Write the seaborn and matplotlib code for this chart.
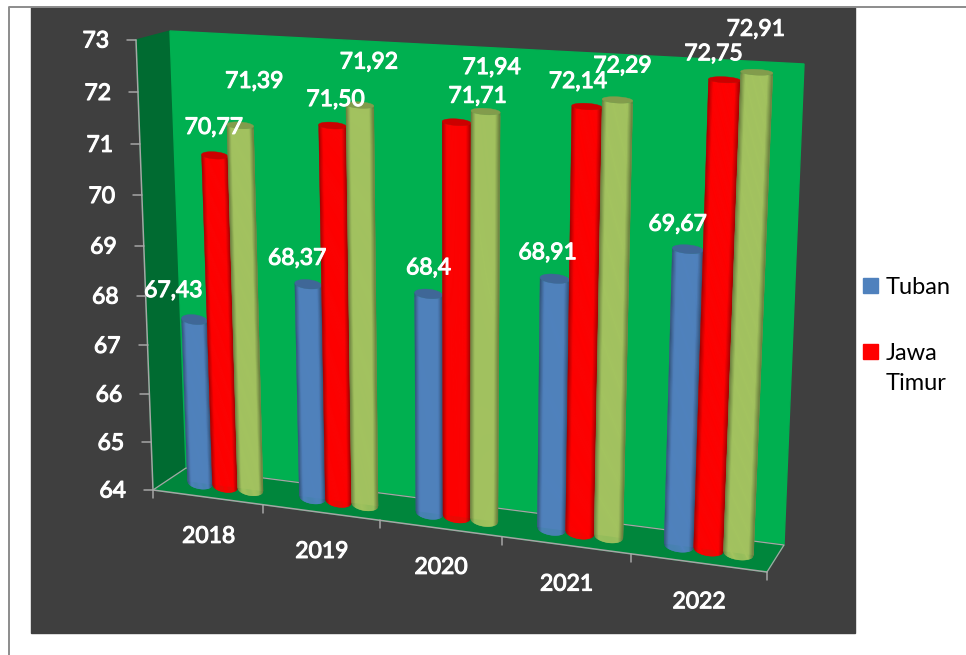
#!/usr/bin/env python
# -*- coding: utf-8 -*-
import numpy as np
import pandas as pd
import matplotlib
matplotlib.use("Agg")
import matplotlib.pyplot as plt
import matplotlib.patheffects as pe
import seaborn as sns
from matplotlib.colors import to_rgb
from matplotlib.patches import Polygon, Rectangle
from matplotlib.transforms import Transform

# data
YEARS = ["2018", "2019", "2020", "2021", "2022"]
TUBAN = [67.43, 68.37, 68.40, 68.91, 69.67]
JAWA_TIMUR = [70.77, 71.50, 71.71, 72.14, 72.75]
SERI_3 = [71.39, 71.92, 71.94, 72.29, 72.91]
SERIES = ["Tuban", "Jawa Timur", "Seri 3"]
VALUE_TEXT = [
    ["67,43", "68,37", "68,4", "68,91", "69,67"],
    ["70,77", "71,50", "71,71", "72,14", "72,75"],
    ["71,39", "71,92", "71,94", "72,29", "72,91"],
]
Y_TICKS = [64, 65, 66, 67, 68, 69, 70, 71, 72, 73]

# label shift from the top of each bar, in pixels
LABEL_SHIFT = [
    [(-21, -29), (-11, -26), (0, -26), (-7, -26), (-10, -25)],
    [(-1, -28), (3, -26), (21, -26), (-9, -25), (-11, -26)],
    [(14, -44), (9, -43), (6, -44), (5, -34), (-1, -43)],
]

COLORS = ["#4F81BD", "#FF0000", "#A3C35F"]
BACKGROUND = "#3F3F3F"
GRID_GRAY = "#A6A6A6"
BASE, TOP = 64, 73
X0, X1 = -0.5, 4.5
BOLD = [pe.withStroke(linewidth=0.8, foreground="white")]


class Homography(Transform):
    """Perspective map from (category, value) to image pixels."""
    input_dims = 2
    output_dims = 2

    def __init__(self, corners):
        super().__init__()
        src = [(X0, BASE), (X1, BASE), (X1, TOP), (X0, TOP)]
        a, b = [], []
        for (x, y), (u, v) in zip(src, corners):
            a.append([x, y, 1, 0, 0, 0, -u * x, -u * y])
            a.append([0, 0, 0, x, y, 1, -v * x, -v * y])
            b += [u, v]
        self.h = np.append(np.linalg.solve(np.array(a, float), np.array(b, float)), 1).reshape(3, 3)

    def transform_non_affine(self, values):
        values = np.asarray(values, float)
        pts = np.column_stack([values, np.ones(len(values))]) @ self.h.T
        return pts[:, :2] / pts[:, 2:]


# middle plane holds the bars, front plane holds the axes
mid_plane = Homography([(170, 479), (775, 558), (796, 69), (153, 37)])
front_plane = Homography([(153, 490), (767, 572), (787, 60), (136, 40)])

df = pd.DataFrame({
    "tahun": YEARS * 3,
    "nilai": TUBAN + JAWA_TIMUR + SERI_3,
    "seri": np.repeat(SERIES, len(YEARS)),
})

sns.set_theme(style="white")
plt.rcParams["font.family"] = ["Lato", "DejaVu Sans"]

fig = plt.figure(figsize=(9.66, 6.55), dpi=100)
ax = fig.add_axes([0, 0, 1, 1])
sns.barplot(data=df, x="tahun", y="nilai", hue="seri", palette=COLORS, width=0.68,
            gap=0, legend=False, ax=ax)
bars = sorted(ax.patches, key=lambda p: p.get_x())
ax.set_xlim(0, 966)
ax.set_ylim(655, 0)
ax.axis("off")
fig.patch.set_facecolor("white")

# frame and dark panel
ax.add_patch(Rectangle((31, 7), 824, 626, color=BACKGROUND, zorder=0))
ax.plot([9, 9, 966], [655, 7, 7], color="#8C8C8C", lw=1.4, zorder=1)

# walls and floor of the chart box
ax.add_patch(Polygon([(136, 40), (170, 31), (186, 468), (153, 490)], color="#006B31", zorder=1))
ax.add_patch(Polygon([(170, 31), (804, 64), (784, 545), (186, 468)], color="#00B050", zorder=1))
ax.add_patch(Polygon([(153, 490), (767, 572), (784, 545), (186, 468)], color="#00863C", zorder=1))
ax.plot([153, 186, 784, 767], [490, 468, 545, 572], color=GRID_GRAY, lw=0.9, zorder=2)

# axis lines, ticks and tick labels
left = front_plane.transform([(X0, v) for v in Y_TICKS])
ax.plot(left[:, 0], left[:, 1], color=GRID_GRAY, lw=1.1, zorder=2)
for (px, py), v in zip(left, Y_TICKS):
    ax.plot([px - 9, px], [py, py], color=GRID_GRAY, lw=1.1, zorder=2)
    ax.text(px - 27, py + 1, str(v), color="white", fontsize=16.5, ha="right", va="center",
            path_effects=BOLD, zorder=20)

bottom = front_plane.transform([(X0 + i, BASE) for i in range(len(YEARS) + 1)])
ax.plot(bottom[:, 0], bottom[:, 1], color=GRID_GRAY, lw=1.1, zorder=2)
for px, py in bottom:
    ax.plot([px, px], [py, py + 8], color=GRID_GRAY, lw=1.1, zorder=2)
centers = front_plane.transform([(i, BASE) for i in range(len(YEARS))])
for (px, py), year in zip(centers, YEARS):
    ax.text(px + 1, py + 39, year, color="white", fontsize=16.5, ha="center", va="center",
            path_effects=BOLD, zorder=20)


def shade(color, t):
    # darker towards both edges of the cylinder
    f = 0.62 + 0.38 * np.clip(np.sin(np.pi * t) * 2, 0, 1)
    return tuple(np.array(to_rgb(color)) * f)


def ellipse_depth(value):
    # the caps flatten with height because of the view angle
    return 0.13 - 0.08 * (value - BASE) / (TOP - BASE)


# seaborn's bars give position and height, then get the cylinder look
to_px = mid_plane + ax.transData
for i, bar in enumerate(bars):
    cat, ser = i // 3, i % 3
    x, w, value = bar.get_x(), bar.get_width(), bar.get_height()
    z = 5 + i
    low_e, top_e = ellipse_depth(BASE), ellipse_depth(value)
    bar.set_y(BASE)
    bar.set_height(value - BASE - top_e)
    bar.set_transform(to_px)
    bar.set_clip_on(False)
    bar.set_linewidth(0)
    bar.set_edgecolor("none")
    bar.set_zorder(z)

    edges = np.linspace(0, 1, 29)
    for t0, t1 in zip(edges[:-1], edges[1:]):
        tm = (t0 + t1) / 2
        arc0, arc1 = np.sqrt(1 - (2 * t0 - 1) ** 2), np.sqrt(1 - (2 * t1 - 1) ** 2)
        xs = [x + w * t0, x + w * t1, x + w * t1, x + w * t0]
        ys = [BASE - low_e * arc0, BASE - low_e * arc1, value - top_e * arc1, value - top_e * arc0]
        c = shade(COLORS[ser], tm)
        ax.fill(xs, ys, color=c, lw=0.3, transform=to_px, clip_on=False, zorder=z + 0.1)

    theta = np.linspace(0, 2 * np.pi, 50)
    ax.fill(x + w / 2 + w / 2 * np.cos(theta), value + top_e * np.sin(theta),
            color=tuple(np.array(to_rgb(COLORS[ser])) * 0.8), lw=0.3,
            transform=to_px, clip_on=False, zorder=z + 0.2)

    top_px = mid_plane.transform([(x + w / 2, value)])[0]
    dx, dy = LABEL_SHIFT[ser][cat]
    ax.annotate(VALUE_TEXT[ser][cat], xy=top_px, xytext=(dx, -dy), textcoords="offset pixels",
                color="white", fontsize=16.5, ha="center", va="center", path_effects=BOLD,
                annotation_clip=False, zorder=30)

# legend, the third series has no entry in the picture
legend_rows = [(COLORS[0], "Tuban", 285), (COLORS[1], "Jawa\nTimur", 351)]
for color, label, y in legend_rows:
    ax.add_patch(Rectangle((863, y - 7.5), 15, 15, color=color, zorder=5))
    ax.text(886, y - 8, label, color="black", fontsize=17, ha="left", va="top",
            linespacing=1.5, zorder=5)

fig.savefig("out.png", dpi=100)
